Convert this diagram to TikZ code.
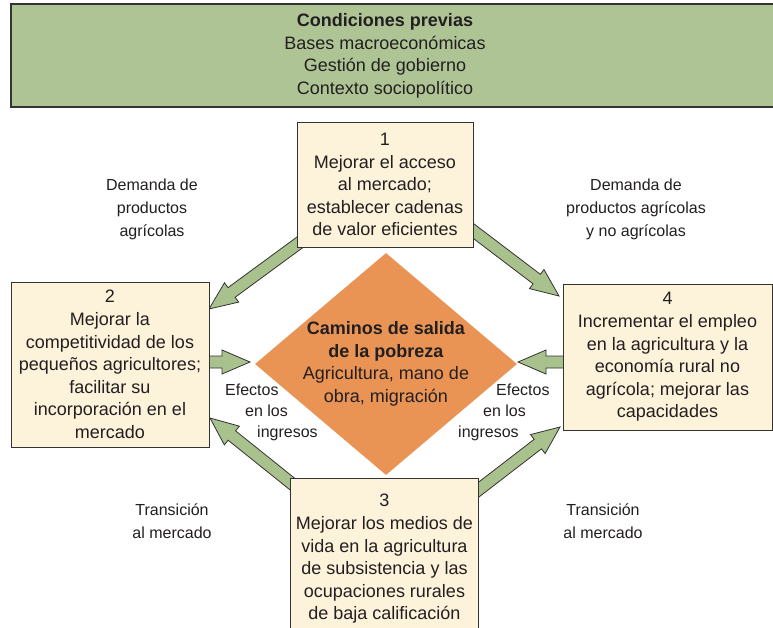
\documentclass[tikz,border=0pt]{standalone}
\usepackage{fontspec}
\setmainfont{Liberation Sans}
\usetikzlibrary{calc,shapes.geometric}
\definecolor{gbox}{HTML}{AEC494}
\definecolor{cream}{HTML}{FDF2DA}
\definecolor{orangeD}{HTML}{E99455}
\definecolor{garrow}{HTML}{A9C18D}
\definecolor{edgec}{HTML}{333333}
\definecolor{ink}{HTML}{231F20}
\newcommand\fatarrow[2]{%
  \coordinate (fah) at ($(#2)!28pt!(#1)$);
  \draw[fatarr] ($(#1)!6pt!90:(#2)$) -- ($(fah)!6pt!-90:(#1)$) -- ($(fah)!12pt!-90:(#1)$)
    -- (#2) -- ($(fah)!12pt!90:(#1)$) -- ($(fah)!6pt!90:(#1)$) -- ($(#1)!6pt!-90:(#2)$) -- cycle;}
\begin{document}
\begin{tikzpicture}[x=1pt,y=-1pt,
  fatarr/.style={fill=garrow,draw=edgec,line width=0.8pt,line join=miter},
  boxsty/.style={rectangle,fill=cream,draw=edgec,line width=1pt,align=center,
    inner sep=0pt,text=ink,font=\fontsize{18}{22.6}\selectfont},
  lbl/.style={align=center,inner sep=0pt,text=ink,font=\fontsize{16}{23}\selectfont},
  eff/.style={align=left,inner sep=0pt,text=ink,font=\fontsize{16}{21}\selectfont,anchor=west}]
\useasboundingbox (0,0) rectangle (773,627);
\fill[white] (0,0) rectangle (773,627);
% top box
\draw[fill=gbox,draw=edgec,line width=1.6pt] (11,4) rectangle (790,107);
\node[align=center,inner sep=0pt,text=ink,font=\fontsize{18}{22.6}\selectfont] (pre) at (385,56)
  {\textbf{Condiciones previas}\\Bases macroeconómicas\\Gestión de gobierno\\Contexto sociopolítico};
% diamond
\node[diamond,fill=orangeD,minimum width=262pt,minimum height=222pt,inner sep=0pt] (D) at (386,364) {};
\node[align=center,inner sep=0pt,text=ink,font=\fontsize{18}{22.6}\selectfont] (Dt) at (386,364)
  {\textbf{Caminos de salida}\\\textbf{de la pobreza}\\Agricultura, mano de\\obra, migración};
% arrow end points
\coordinate (s12) at (318,229);  \coordinate (t12) at (209,309);
\coordinate (s14) at (455,217);  \coordinate (t14) at (559,296);
\coordinate (s2D) at (198,362);  \coordinate (t2D) at (250,362);
\coordinate (s4D) at (575,362);  \coordinate (t4D) at (518,362);
\coordinate (s32) at (311,499);  \coordinate (t32) at (210,418);
\coordinate (s34) at (460,504);  \coordinate (t34) at (560,427);
\fatarrow{s12}{t12}
\fatarrow{s14}{t14}
\fatarrow{s2D}{t2D}
\fatarrow{s4D}{t4D}
\fatarrow{s32}{t32}
\fatarrow{s34}{t34}
% boxes
\node[boxsty,minimum width=176pt,minimum height=125pt] (b1) at (385,184.5)
  {1\\Mejorar el acceso\\al mercado;\\establecer cadenas\\de valor eficientes};
\node[boxsty,minimum width=198pt,minimum height=165pt] (b2) at (110,364.5)
  {2\\Mejorar la\\competitividad de los\\pequeños agricultores;\\facilitar su\\incorporación en el\\mercado};
\node[boxsty,minimum width=209pt,minimum height=146pt] (b4) at (667.5,357)
  {4\\Incrementar el empleo\\en la agricultura y la\\economía rural no\\agrícola; mejorar las\\capacidades};
\node[boxsty,draw=none,minimum width=187pt,minimum height=160pt] (b3) at (384.5,559)
  {3\\Mejorar los medios de\\vida en la agricultura\\de subsistencia y las\\ocupaciones rurales\\de baja calificación};
\draw[edgec,line width=1pt] (b3.south west) -- (b3.north west) -- (b3.north east) -- (b3.south east);
% labels
\node[lbl] (l1) at (152,209) {Demanda de\\productos\\agrícolas};
\node[lbl] (l2) at (636,209) {Demanda de\\productos agrícolas\\y no agrícolas};
\node[lbl] (l3) at (172,521.5) {Transición\\al mercado};
\node[lbl] (l4) at (603,521.5) {Transición\\al mercado};
\node[eff] (e1) at (225,412) {Efectos\\\hspace*{20pt}en los\\\hspace*{32pt}ingresos};
\node[eff] (e2) at (458,412) {\hspace*{38pt}Efectos\\\hspace*{25pt}en los\\ingresos};
\end{tikzpicture}
\end{document}
